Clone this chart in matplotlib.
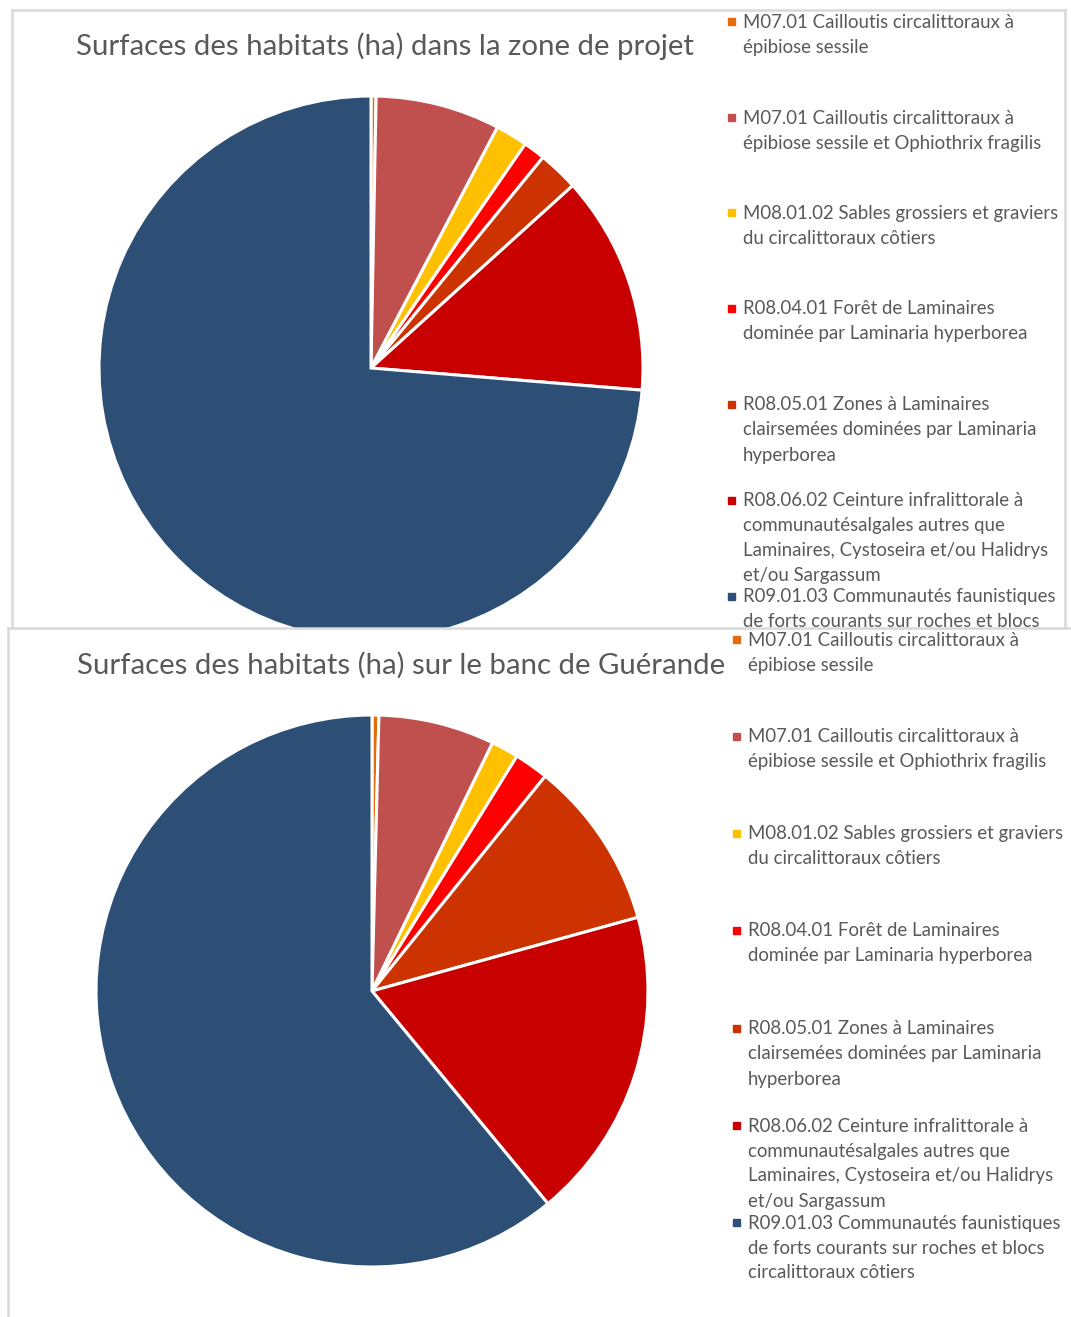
import matplotlib

matplotlib.use('Agg')

import matplotlib.pyplot as plt
from matplotlib.patches import Rectangle

plt.rcParams['font.family'] = ['Lato', 'DejaVu Sans']

# habitats (légende, dans l'ordre des parts)
labels = [
    "M07.01 Cailloutis circalittoraux à\népibiose sessile",
    "M07.01 Cailloutis circalittoraux à\népibiose sessile et Ophiothrix fragilis",
    "M08.01.02 Sables grossiers et graviers\ndu circalittoraux côtiers",
    "R08.04.01 Forêt de Laminaires\ndominée par Laminaria hyperborea",
    "R08.05.01 Zones à Laminaires\nclairsemées dominées par Laminaria\nhyperborea",
    "R08.06.02 Ceinture infralittorale à\ncommunautésalgales autres que\n"
    "Laminaires, Cystoseira et/ou Halidrys\net/ou Sargassum",
    "R09.01.03 Communautés faunistiques\nde forts courants sur roches et blocs\n"
    "circalittoraux côtiers",
]
colors = ['#E46C0A', '#C0504D', '#FFC000', '#FF0000', '#CC3300', '#C80000', '#2D4F75']

zone_projet = [0.3, 7.4, 1.9, 1.3, 2.4, 13.0, 73.7]
banc_guerande = [0.4, 6.8, 1.6, 2.0, 9.9, 18.3, 61.0]

title_1 = "Surfaces des habitats (ha) dans la zone de projet"
title_2 = "Surfaces des habitats (ha) sur le banc de Guérande"

W, H = 1071, 1317
TXT = '#595959'


def box(x0, y0, x1, y1):
    # pixels (origine en haut à gauche) -> coordonnées figure
    return [x0 / W, 1 - y1 / H, (x1 - x0) / W, (y1 - y0) / H]


def panel(fig, frame, pie_box, values, title, title_xy, legend_x, legend_y, z):
    # cadre du graphique (fond blanc, bordure grise)
    bg = fig.add_axes(box(*frame), zorder=z)
    bg.set_xlim(frame[0], frame[2])
    bg.set_ylim(frame[3], frame[1])
    bg.set_xticks([])
    bg.set_yticks([])
    bg.set_facecolor('white')
    for s in bg.spines.values():
        s.set_color('#d9d9d9')
        s.set_linewidth(1.8)

    bg.text(title_xy[0], title_xy[1], title, fontsize=21.2, color=TXT,
            ha='center', va='center')

    # légende
    for lab, col, y0 in zip(labels, colors, legend_y):
        bg.add_patch(Rectangle((legend_x - 15, y0 - 4), 7, 7, color=col, clip_on=False))
        for j, line in enumerate(lab.split('\n')):
            bg.text(legend_x, y0 + j * 25, line, fontsize=13.4, color=TXT,
                    ha='left', va='center', clip_on=True)

    ax = fig.add_axes(box(*pie_box), zorder=z + 1)
    ax.pie(values, colors=colors, startangle=90, counterclock=False,
           wedgeprops={'edgecolor': 'white', 'linewidth': 2.2})
    ax.set_xlim(-1.0, 1.0)
    ax.set_ylim(-1.0, 1.0)
    ax.set_aspect('equal')
    ax.axis('off')
    return bg, ax


fig = plt.figure(figsize=(W / 100, H / 100), dpi=100)

panel(fig, (12, 10, 1065, 629), (99, 96, 643, 640), zone_projet, title_1,
      (385, 46), 743, [22, 118, 213, 309, 405, 501, 597], 0)

panel(fig, (8, 628, 1100, 1340), (96, 715, 648, 1267), banc_guerande, title_2,
      (401, 665), 748, [640, 737, 834, 931, 1029, 1126, 1223], 2)

plt.savefig('out.png', dpi=100)
plt.close()
